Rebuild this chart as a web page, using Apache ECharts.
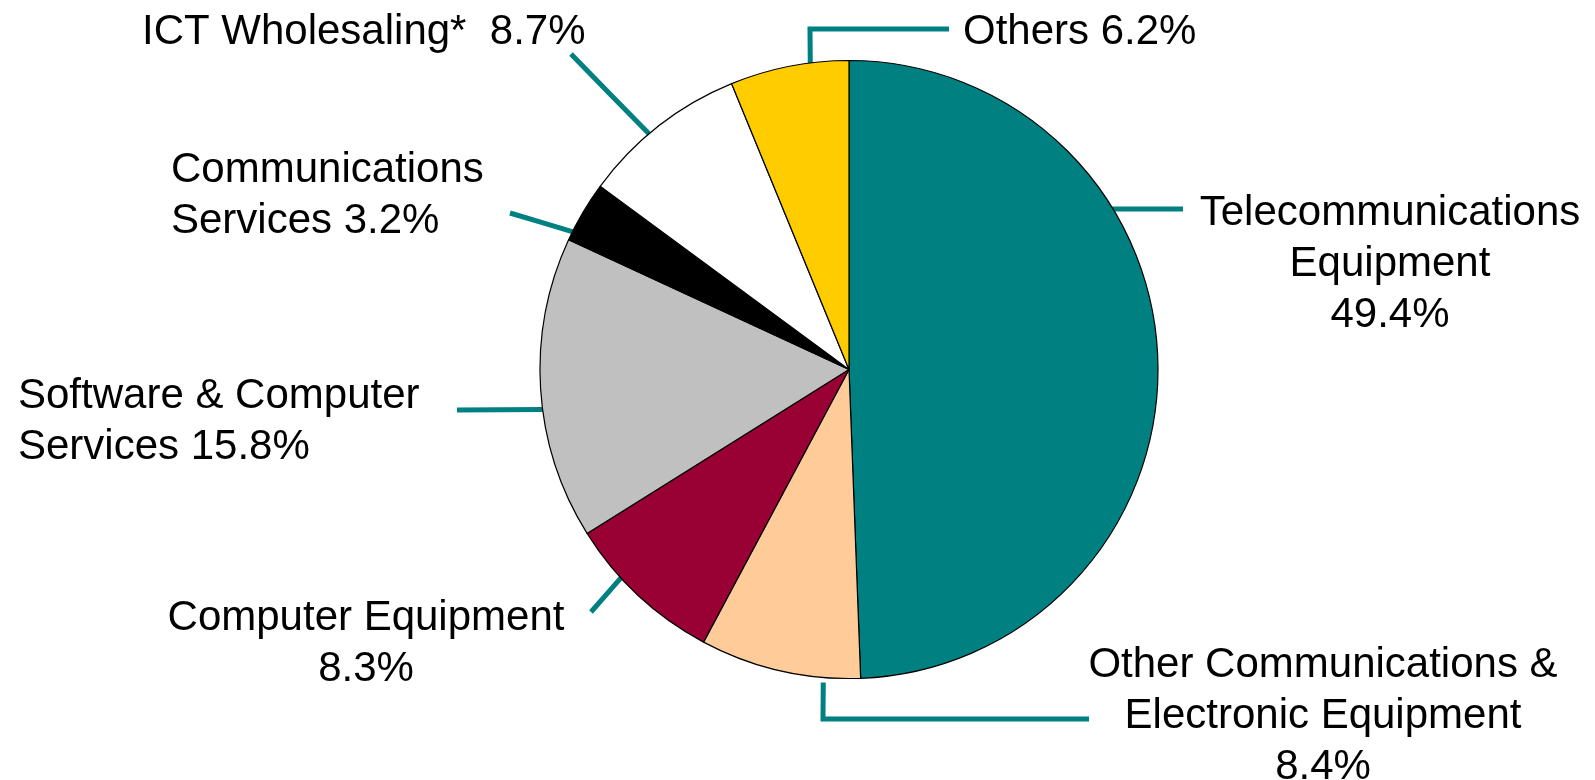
<!DOCTYPE html>
<html>
<head>
<meta charset="utf-8">
<title>ICT sector breakdown</title>
<script src="https://cdn.jsdelivr.net/npm/echarts@6/dist/echarts.min.js"></script>
<style>
  html, body { margin: 0; padding: 0; background: #ffffff; }
  #chart { width: 1595px; height: 780px; }
</style>
</head>
<body>
<div id="chart"></div>
<script>
// Segment names (line breaks are part of the label text)
const categories = [
  'Telecommunications\nEquipment',
  'Other Communications &\nElectronic Equipment',
  'Computer Equipment',
  'Software & Computer\nServices',
  'Communications\nServices',
  'ICT Wholesaling*',
  'Others'
];
// Share of each segment, in percent
const shares = [49.4, 8.4, 8.3, 15.8, 3.2, 8.7, 6.2];
// What separates a name from its percentage in the label
const valueSeparators = ['\n', '\n', '\n', ' ', ' ', '  ', ' '];
// Slice fills
const sliceColors = ['#008080', '#FFCC99', '#990033', '#C0C0C0', '#000000', '#FFFFFF', '#FFCC00'];

// Pie geometry (pixels)
const CX = 849, CY = 369.5, RADIUS = 309;
const LEADER_COLOR = '#008080';

// Where each label sits and how its leader line runs.
// anchor: [angle clockwise from 12 o'clock in degrees, radial offset from the rim]
// path: remaining leader points after the rim anchor
const labelPlacement = [
  { x: 1390, y: 188, align: 'center', anchor: [58.6, -1],  path: [[1183, 209]] },
  { x: 1323, y: 640, align: 'center', anchor: [184.7, 5],  path: [[823, 719], [1089, 719]] },
  { x: 366,  y: 593, align: 'center', anchor: [227.6, -1], path: [[591, 612]] },
  { x: 18,   y: 371, align: 'left',   anchor: [262.5, -2], path: [[457, 410]] },
  { x: 171,  y: 145, align: 'left',   anchor: [296.6, -4], path: [[510, 213]] },
  { x: 142,  y: 7,   align: 'left',   anchor: [319.7, -2], path: [[571, 54]] },
  { x: 963,  y: 7,   align: 'left',   anchor: [-7.2, 0],   path: [[810, 29], [949, 29]] }
];

const pieData = categories.map((name, i) => ({
  name: name,
  value: shares[i],
  itemStyle: { color: sliceColors[i] }
}));

const chart = echarts.init(document.getElementById('chart'), null, { renderer: 'canvas' });

chart.setOption({
  backgroundColor: '#ffffff',
  animation: false,
  series: [{
    type: 'pie',
    center: [CX, CY],
    radius: RADIUS,
    startAngle: 90,
    clockwise: true,
    avoidLabelOverlap: false,
    emphasis: { disabled: true },
    itemStyle: { borderColor: '#000000', borderWidth: 1.2 },
    label: {
      show: true,
      position: 'outside',
      fontFamily: '"Liberation Sans", Arial, sans-serif',
      fontSize: 42,
      lineHeight: 51,
      color: '#000000',
      formatter: p => categories[p.dataIndex] + valueSeparators[p.dataIndex] + p.value.toFixed(1) + '%'
    },
    labelLine: {
      show: true,
      smooth: false,
      lineStyle: { color: LEADER_COLOR, width: 5, cap: 'butt', join: 'miter' }
    },
    labelLayout: function (p) {
      const L = labelPlacement[p.dataIndex];
      const a = L.anchor[0] * Math.PI / 180;
      const r = RADIUS + L.anchor[1];
      const start = [CX + r * Math.sin(a), CY - r * Math.cos(a)];
      const pts = [start].concat(L.path);
      if (pts.length === 2) {
        pts.splice(1, 0, [(start[0] + pts[1][0]) / 2, (start[1] + pts[1][1]) / 2]);
      }
      return {
        x: L.x,
        y: L.y,
        align: L.align,
        verticalAlign: 'top',
        labelLinePoints: pts
      };
    },
    data: pieData
  }]
});
</script>
</body>
</html>
